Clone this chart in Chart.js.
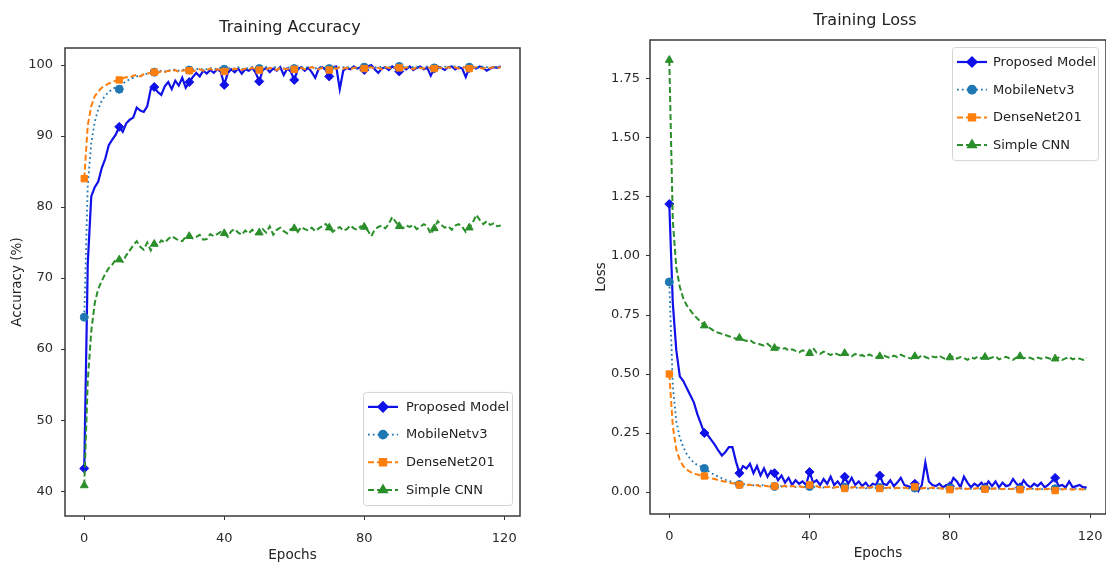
<!DOCTYPE html>
<html><head><meta charset="utf-8">
<script src="https://cdn.jsdelivr.net/npm/chart.js@4.4.1/dist/chart.umd.min.js"></script>
<style>
html,body{margin:0;padding:0;background:#fff;width:1106px;height:567px;overflow:hidden}
#wrapL{position:absolute;left:0;top:0;width:560px;height:567px}
#wrapR{position:absolute;left:560px;top:0;width:546px;height:567px}
canvas{display:block}
</style></head><body>
<div id="wrapL"><canvas id="cL" width="560" height="567"></canvas></div>
<div id="wrapR"><canvas id="cR" width="546" height="567"></canvas></div>
<script>
// ---------------- DATA ----------------
const epochs = Array.from({length: 120}, (_, i) => i);
const seriesNames = ['Proposed Model', 'MobileNetv3', 'DenseNet201', 'Simple CNN'];
const epochTicks = [0, 40, 80, 120];
const accTicks = [40, 50, 60, 70, 80, 90, 100];
const lossTicks = [0, 0.25, 0.5, 0.75, 1.0, 1.25, 1.5, 1.75];

const accProposed = [
 43.2,72.0,81.5,82.8,83.6,85.5,86.8,88.7,89.5,90.2,
 91.3,90.6,91.8,92.3,92.6,94.0,93.6,93.4,94.2,96.6,
 96.9,96.2,95.8,97.0,97.6,96.6,97.8,97.1,98.2,96.8,
 97.6,98.3,98.9,98.4,99.2,98.8,99.3,98.9,99.4,99.1,
 97.2,98.9,99.4,99.0,99.5,98.8,99.4,99.2,99.6,98.9,
 97.7,99.3,99.6,99.0,99.5,99.2,99.7,98.6,99.5,99.1,
 97.9,99.4,99.7,99.2,99.6,99.0,98.2,99.5,99.7,99.3,
 98.4,99.7,99.8,96.6,99.2,99.6,99.4,99.8,99.5,99.7,
 99.3,99.8,100.0,99.4,98.9,99.5,99.7,99.3,99.8,99.5,
 99.1,99.7,99.4,99.8,99.3,99.6,99.8,99.4,99.6,98.5,
 99.5,99.8,99.6,99.3,99.7,99.8,99.4,99.7,99.5,98.3,
 99.6,99.7,99.5,99.8,99.6,99.2,99.5,99.7,99.6,99.8];
const accMobile = [
 64.5,83.0,89.0,92.0,93.8,95.0,95.7,96.2,96.6,96.9,
 96.6,97.4,97.7,98.0,98.2,98.4,98.5,98.6,98.8,98.9,
 99.0,99.0,99.2,99.1,99.3,99.2,99.4,99.2,99.3,99.4,
 99.3,99.4,99.5,99.3,99.5,99.4,99.6,99.4,99.5,99.6,
 99.4,99.5,99.6,99.5,99.7,99.4,99.6,99.5,99.7,99.6,
 99.5,99.6,99.7,99.5,99.6,99.8,99.6,99.5,99.7,99.6,
 99.5,99.7,99.6,99.8,99.6,99.7,99.5,99.7,99.8,99.6,
 99.5,99.7,99.8,99.6,99.7,99.6,99.8,99.7,99.6,99.8,
 99.7,99.6,99.8,99.7,99.6,99.8,99.7,99.8,99.6,99.7,
 99.8,99.7,99.6,99.8,99.7,99.8,99.6,99.7,99.8,99.7,
 99.6,99.8,99.7,99.8,99.6,99.7,99.8,99.7,99.6,99.8,
 99.7,99.8,99.6,99.7,99.8,99.7,99.6,99.8,99.7,99.8];
const accDense = [
 84.0,91.5,94.2,95.6,96.3,96.8,97.1,97.4,97.6,97.8,
 97.9,98.1,98.3,98.2,98.5,98.6,98.4,98.7,98.8,98.9,
 99.0,98.9,99.1,99.0,99.2,99.1,99.3,99.0,99.2,99.3,
 99.2,99.1,99.3,99.4,99.2,99.3,99.5,99.2,99.4,99.3,
 99.1,99.4,99.3,99.5,99.4,99.3,99.5,99.4,99.6,99.4,
 99.3,99.5,99.4,99.6,99.5,99.3,99.6,99.5,99.4,99.6,
 99.4,99.5,99.6,99.4,99.5,99.7,99.5,99.4,99.6,99.5,
 99.3,99.6,99.5,99.7,99.5,99.6,99.4,99.6,99.7,99.5,
 99.5,99.6,99.7,99.5,99.6,99.4,99.7,99.6,99.5,99.7,
 99.6,99.5,99.7,99.6,99.4,99.7,99.6,99.5,99.7,99.6,
 99.5,99.7,99.6,99.5,99.7,99.6,99.7,99.5,99.6,99.7,
 99.5,99.6,99.7,99.6,99.5,99.7,99.6,99.7,99.6,99.7];
const accSimple = [
 40.8,55.5,62.5,66.5,68.5,69.6,70.6,71.4,71.9,72.6,
 72.6,72.3,73.2,73.9,74.6,75.2,74.4,74.0,75.0,73.9,
 74.8,74.6,75.3,75.0,75.5,75.9,75.6,75.3,75.2,75.8,
 75.9,75.6,75.8,76.1,75.4,75.5,76.2,75.9,76.2,76.5,
 76.3,75.8,76.6,76.9,76.4,76.1,76.7,76.3,76.8,76.2,
 76.4,76.9,76.4,77.3,76.1,76.8,77.1,76.6,76.3,76.9,
 77.0,76.5,77.2,76.9,76.7,77.1,76.6,77.0,77.3,77.6,
 77.1,76.5,76.9,77.2,76.7,76.9,77.4,77.0,76.8,77.3,
 77.2,76.7,75.9,76.8,77.2,77.4,77.0,77.6,78.6,77.9,
 77.3,77.0,77.4,77.2,77.5,76.9,77.2,77.6,77.3,76.2,
 77.0,78.0,77.5,77.1,77.3,76.8,77.4,77.6,77.2,76.5,
 77.1,77.8,78.9,78.2,77.6,78.0,77.5,77.7,77.3,77.4];

const lossProposed = [
 1.22,0.80,0.60,0.49,0.47,0.44,0.41,0.38,0.33,0.29,
 0.25,0.24,0.22,0.20,0.175,0.155,0.17,0.19,0.19,0.13,
 0.08,0.11,0.10,0.12,0.08,0.11,0.07,0.10,0.065,0.09,
 0.08,0.05,0.07,0.04,0.06,0.03,0.05,0.035,0.045,0.03,
 0.085,0.04,0.05,0.03,0.055,0.035,0.065,0.03,0.045,0.025,
 0.065,0.035,0.06,0.03,0.045,0.025,0.04,0.02,0.035,0.03,
 0.07,0.035,0.03,0.05,0.025,0.04,0.06,0.03,0.025,0.02,
 0.035,0.005,0.03,0.125,0.045,0.03,0.025,0.035,0.02,0.03,
 0.025,0.06,0.045,0.02,0.065,0.04,0.02,0.035,0.025,0.04,
 0.02,0.045,0.025,0.045,0.02,0.04,0.025,0.03,0.055,0.035,
 0.02,0.05,0.03,0.02,0.035,0.025,0.04,0.02,0.03,0.045,
 0.06,0.025,0.03,0.02,0.045,0.02,0.025,0.03,0.02,0.02];
const lossMobile = [
 0.89,0.45,0.30,0.23,0.19,0.16,0.14,0.125,0.115,0.108,
 0.10,0.09,0.08,0.072,0.065,0.058,0.052,0.047,0.042,0.038,
 0.032,0.035,0.03,0.033,0.028,0.031,0.027,0.03,0.025,0.028,
 0.024,0.027,0.025,0.022,0.026,0.024,0.021,0.025,0.023,0.02,
 0.024,0.022,0.02,0.023,0.019,0.022,0.02,0.018,0.021,0.019,
 0.02,0.018,0.021,0.017,0.019,0.02,0.016,0.019,0.018,0.017,
 0.019,0.016,0.018,0.017,0.015,0.018,0.016,0.017,0.015,0.016,
 0.017,0.015,0.016,0.018,0.014,0.016,0.015,0.017,0.014,0.015,
 0.016,0.014,0.015,0.017,0.013,0.015,0.014,0.016,0.013,0.015,
 0.014,0.016,0.013,0.015,0.014,0.012,0.015,0.013,0.014,0.015,
 0.013,0.014,0.012,0.015,0.013,0.014,0.012,0.013,0.015,0.012,
 0.014,0.013,0.012,0.014,0.013,0.012,0.014,0.013,0.012,0.013];
const lossDense = [
 0.50,0.28,0.18,0.135,0.11,0.095,0.085,0.078,0.074,0.07,
 0.068,0.062,0.058,0.055,0.05,0.047,0.044,0.04,0.037,0.035,
 0.03,0.034,0.028,0.031,0.026,0.03,0.024,0.028,0.025,0.022,
 0.025,0.029,0.023,0.027,0.021,0.026,0.022,0.024,0.02,0.023,
 0.03,0.022,0.025,0.019,0.023,0.02,0.024,0.018,0.022,0.02,
 0.015,0.021,0.018,0.022,0.017,0.02,0.016,0.019,0.021,0.017,
 0.015,0.019,0.017,0.02,0.016,0.018,0.015,0.019,0.016,0.018,
 0.022,0.017,0.015,0.018,0.016,0.019,0.015,0.017,0.014,0.016,
 0.01,0.016,0.014,0.017,0.015,0.013,0.016,0.014,0.017,0.015,
 0.012,0.015,0.013,0.016,0.014,0.012,0.015,0.013,0.014,0.016,
 0.01,0.014,0.012,0.015,0.013,0.011,0.014,0.012,0.013,0.015,
 0.006,0.013,0.011,0.014,0.012,0.01,0.013,0.012,0.011,0.013];
const lossSimple = [
 1.83,1.15,0.95,0.87,0.82,0.79,0.77,0.75,0.735,0.72,
 0.705,0.70,0.69,0.68,0.675,0.67,0.665,0.66,0.655,0.65,
 0.653,0.645,0.64,0.645,0.632,0.63,0.625,0.62,0.628,0.615,
 0.61,0.612,0.605,0.61,0.60,0.605,0.598,0.592,0.60,0.595,
 0.588,0.61,0.59,0.585,0.595,0.588,0.58,0.59,0.583,0.578,
 0.588,0.582,0.575,0.585,0.578,0.58,0.572,0.583,0.576,0.57,
 0.575,0.58,0.573,0.568,0.578,0.572,0.582,0.575,0.57,0.565,
 0.575,0.568,0.58,0.572,0.566,0.574,0.57,0.578,0.568,0.562,
 0.57,0.575,0.565,0.572,0.568,0.56,0.57,0.565,0.574,0.566,
 0.572,0.565,0.57,0.575,0.562,0.568,0.573,0.566,0.56,0.57,
 0.575,0.566,0.572,0.568,0.562,0.57,0.565,0.572,0.568,0.562,
 0.565,0.57,0.56,0.566,0.572,0.562,0.568,0.565,0.56,0.568];

// ---------------- FONTS ----------------
const FONT = '"DejaVu Sans", "Liberation Sans", sans-serif';
const FS = {title: 16, axis: 13.5, tick: 13, legend: 13};
Chart.defaults.font.family = FONT;
Chart.defaults.color = '#2a2a2a';

// ---------------- PLUGINS ----------------
const framePlugin = {
  id: 'frame',
  afterDatasetsDraw(chart) {
    const {ctx, chartArea: a} = chart;
    ctx.save();
    ctx.strokeStyle = '#3a3a3a'; ctx.lineWidth = 1.5;
    ctx.strokeRect(a.left, a.top, a.right - a.left, a.bottom - a.top);
    ctx.restore();
  }
};
// move the title box so its text is centred at a chosen x
const titleShift = {
  id: 'titleShift',
  afterLayout(chart, args, o) {
    const tb = chart.titleBlock;
    if (!tb || o.cx == null) return;
    const dx = o.cx - (tb.left + tb.right) / 2;
    tb.left += dx; tb.right += dx;
  }
};
const insideLegend = {
  id: 'insideLegend',
  afterDraw(chart, args, o) {
    const {ctx, chartArea: ca} = chart;
    const ds = chart.data.datasets;
    ctx.save();
    ctx.font = FS.legend + 'px ' + FONT;
    const w = o.width;
    const h = o.rowH * (ds.length - 1) + 2 * o.padV;
    const x0 = ca.right - o.marginX - w;
    const y0 = o.corner === 'lr' ? ca.bottom - o.marginY - h : ca.top + o.marginY;
    ctx.beginPath();
    ctx.roundRect(x0 + 0.5, y0 + 0.5, w, h, 3);
    ctx.fillStyle = 'rgba(255,255,255,0.85)'; ctx.fill();
    ctx.strokeStyle = '#d4d4d4'; ctx.lineWidth = 1; ctx.stroke();
    ds.forEach((d, i) => {
      const cy = y0 + o.padV + i * o.rowH;
      ctx.save();
      ctx.strokeStyle = d.borderColor; ctx.lineWidth = d.borderWidth;
      ctx.setLineDash(d.borderDash || []);
      ctx.beginPath(); ctx.moveTo(x0 + o.lineX0, cy); ctx.lineTo(x0 + o.lineX1, cy); ctx.stroke();
      ctx.setLineDash([]);
      ctx.fillStyle = d.borderColor; ctx.strokeStyle = d.borderColor;
      Chart.helpers.drawPoint(ctx, {pointStyle: d.pointStyle, radius: d.markerR, borderWidth: 1, rotation: 0},
        x0 + (o.lineX0 + o.lineX1) / 2, cy);
      ctx.restore();
      ctx.fillStyle = '#222'; ctx.textBaseline = 'middle'; ctx.textAlign = 'left';
      ctx.fillText(d.label, x0 + o.textX, cy + 0.5);
    });
    ctx.restore();
  }
};

// ---------------- STYLE ----------------
const styles = [
  {color: '#1010e8', width: 2.2, dash: [], marker: 'rectRot', r: 4.5},
  {color: '#1f77b4', width: 1.8, dash: [1.8, 3], marker: 'circle', r: 4},
  {color: '#ff7f0e', width: 2, dash: [6, 3], marker: 'rect', r: 4.5},
  {color: '#2a8f2a', width: 2, dash: [6, 3], marker: 'triangle', r: 4.5}
];
function makeDatasets(seriesList) {
  return seriesList.map((vals, k) => {
    const s = styles[k];
    return {
      label: seriesNames[k],
      data: vals,
      borderColor: s.color, backgroundColor: s.color,
      borderWidth: s.width, borderDash: s.dash,
      pointStyle: s.marker, markerR: s.r,
      pointRadius: c => (c.dataIndex % 10 === 0 ? s.r : 0),
      pointHoverRadius: 0,
      pointBackgroundColor: s.color, pointBorderColor: s.color, pointBorderWidth: 1,
      tension: 0, fill: false, order: 4 - k
    };
  });
}

function makeChart(id, W, H, cfg) {
  const area = cfg.area;
  const pr = W - area.right;
  const tLH = FS.title * 1.2, aLH = FS.axis * 1.2;
  return new Chart(document.getElementById(id), {
    type: 'line',
    data: {labels: epochs, datasets: makeDatasets(cfg.series)},
    plugins: [framePlugin, insideLegend, titleShift],
    options: {
      responsive: false, animation: false, events: [],
      layout: {autoPadding: false, padding: {left: 0, right: pr, top: 0, bottom: 0}},
      plugins: {
        legend: {display: false}, tooltip: {enabled: false},
        title: {display: true, text: cfg.title, fullSize: false, color: '#222',
          font: {size: FS.title, weight: 'normal', lineHeight: 1.2},
          padding: {top: cfg.titleCY - tLH / 2, bottom: area.top - cfg.titleCY - tLH / 2}},
        titleShift: {cx: cfg.titleCX},
        insideLegend: cfg.legend
      },
      scales: {
        x: {
          type: 'linear', min: -5.5, max: 124.5,
          afterFit: s => { s.height = H - area.bottom; s.paddingLeft = 0; s.paddingRight = 0; },
          afterBuildTicks: s => { s.ticks = epochTicks.map(v => ({value: v})); },
          ticks: {autoSkip: false, padding: cfg.xTickPad, font: {size: FS.tick}, color: '#2a2a2a', maxRotation: 0},
          grid: {display: true, drawOnChartArea: false, drawTicks: true, tickLength: 4, color: '#333', lineWidth: 1},
          border: {display: false},
          title: {display: true, text: 'Epochs', color: '#222', font: {size: FS.axis, lineHeight: 1.2},
            padding: {top: 0, bottom: H - cfg.xTitleCY - aLH / 2}}
        },
        y: {
          type: 'linear', min: cfg.yMin, max: cfg.yMax,
          afterFit: s => { s.width = area.left; s.paddingTop = 0; s.paddingBottom = 0; },
          afterBuildTicks: s => { s.ticks = cfg.yTicks.map(v => ({value: v})); },
          ticks: {autoSkip: false, padding: cfg.yTickPad, font: {size: FS.tick}, color: '#2a2a2a', callback: cfg.fmt},
          grid: {display: true, drawOnChartArea: false, drawTicks: true, tickLength: 4, color: '#333', lineWidth: 1},
          border: {display: false},
          title: {display: true, text: cfg.yTitle, color: '#222', font: {size: FS.axis, lineHeight: 1.2},
            padding: {top: cfg.yTitleCX - aLH / 2, bottom: 0}}
        }
      }
    }
  });
}

makeChart('cL', 560, 567, {
  area: {left: 65, right: 520, top: 48, bottom: 516},
  title: 'Training Accuracy', titleCX: 290, titleCY: 28,
  yTitle: 'Accuracy (%)', yTitleCX: 17, xTitleCY: 555, xTickPad: 11, yTickPad: 8,
  yMin: 36.5, yMax: 102.4, yTicks: accTicks, fmt: v => String(v),
  series: [accProposed, accMobile, accDense, accSimple],
  legend: {corner: 'lr', width: 149, marginX: 8, marginY: 11, rowH: 27.7, padV: 15, lineX0: 5, lineX1: 35, textX: 43}
});
makeChart('cR', 546, 567, {
  area: {left: 90, right: 546, top: 40, bottom: 514},
  title: 'Training Loss', titleCX: 305, titleCY: 21,
  yTitle: 'Loss', yTitleCX: 41, xTitleCY: 553, xTickPad: 11, yTickPad: 6,
  yMin: -0.093, yMax: 1.915, yTicks: lossTicks, fmt: v => v.toFixed(2),
  series: [lossProposed, lossMobile, lossDense, lossSimple],
  legend: {corner: 'ur', width: 146, marginX: 8, marginY: 7, rowH: 27.7, padV: 15, lineX0: 5, lineX1: 35, textX: 41}
});
</script>
</body></html>
